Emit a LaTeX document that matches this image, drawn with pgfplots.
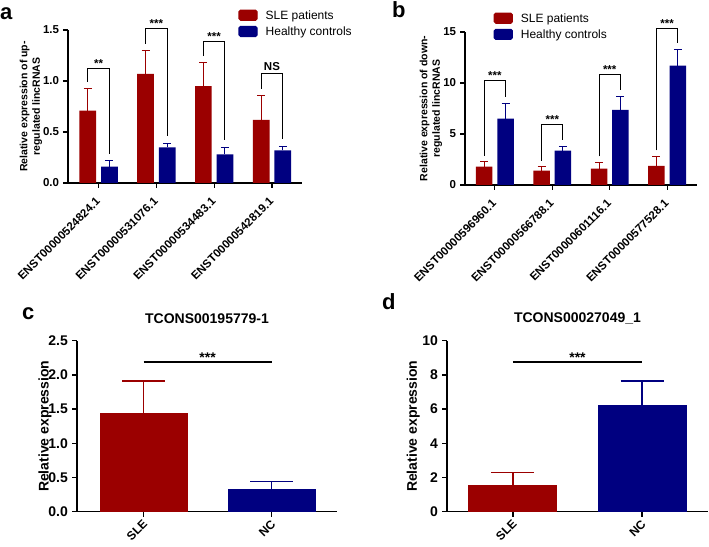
\documentclass[border=0pt]{standalone}
\usepackage{pgfplots}
\pgfplotsset{compat=1.18}
\usepackage{fontspec}
\setmainfont{Liberation Sans}
\definecolor{slered}{RGB}{155,0,0}
\definecolor{hcblue}{RGB}{0,0,128}
\newcommand\fa{\fontsize{11.5}{13}\selectfont\bfseries}
\newcommand\fc{\fontsize{14}{16}\selectfont\bfseries}
\pgfplotsset{
  gp/.style={
    scale only axis,
    axis x line*=bottom, axis y line*=left,
    axis line style={-},
    tick align=outside,
    major tick length=5pt,
    ymin=0,
    clip=false,
    xtick={0,1,2,3},
    /pgf/number format/assume math mode=true,
    legend cell align=left,
  },
  small/.style={
    gp,
    every axis/.append style={line width=1.2pt},
    tick style={line width=1.2pt, black},
    ticklabel style={font=\fa},
    x tick label style={rotate=45, anchor=north east, inner sep=0pt, xshift=-8pt, yshift=-3pt},
    y label style={font=\fontsize{10.5}{12.5}\selectfont\bfseries, align=center},
    legend style={draw=none, fill=none, inner sep=0pt, row sep=5pt,
      font=\fontsize{12}{14}\selectfont, nodes={inner sep=0pt, text depth=0pt},
      /tikz/every odd column/.style={column sep=8pt}},
  },
  big/.style={
    gp,
    every axis/.append style={line width=1.5pt},
    tick style={line width=1.5pt, black},
    ticklabel style={font=\fc},
    x tick label style={font=\fontsize{12}{14}\selectfont\bfseries, rotate=45, anchor=north east, inner sep=0pt, xshift=-2pt, yshift=0pt},
    y label style={font=\fc},
    title style={font=\fc, anchor=base, at={(axis description cs:0.5,1)}, yshift=11.7pt},
    xtick={0,1}, xticklabels={SLE,NC},
  },
  redbar/.style 2 args={ybar, bar shift=0pt, fill=slered, draw=none, forget plot,
    error bars/y dir=plus, error bars/y explicit,
    error bars/error bar style={line width=#2, slered},
    error bars/error mark options={rotate=90, line width=#2, slered, mark size=#1}},
  bluebar/.style 2 args={ybar, bar shift=0pt, fill=hcblue, draw=none, forget plot,
    error bars/y dir=plus, error bars/y explicit,
    error bars/error bar style={line width=#2, hcblue},
    error bars/error mark options={rotate=90, line width=#2, hcblue, mark size=#1}},
  brk/.style={black, line width=1pt, forget plot, mark=none},
}
\newcommand\legsq[1]{\addlegendimage{legend image code/.code={\fill[#1, rounded corners=1.5pt] (0pt,-5pt) rectangle (18pt,5pt);}}}
\begin{document}
\begin{tikzpicture}
\useasboundingbox (0,0) rectangle (709pt,546pt);
\node[anchor=base west, inner sep=0pt, font=\fontsize{22}{22}\selectfont\bfseries] at (0pt,526pt) {a};
\node[anchor=base west, inner sep=0pt, font=\fontsize{22}{22}\selectfont\bfseries] at (392pt,528pt) {b};
\node[anchor=base west, inner sep=0pt, font=\fontsize{22}{22}\selectfont\bfseries] at (22pt,226pt) {c};
\node[anchor=base west, inner sep=0pt, font=\fontsize{22}{22}\selectfont\bfseries] at (382pt,236pt) {d};

% ---- panel a
\begin{axis}[small, at={(68pt,363pt)}, anchor=south west,
  width=234pt, height=153pt,
  xmin=-0.53, xmax=3.52, ymax=1.5,
  ytick={0,0.5,1,1.5},
  yticklabel style={/pgf/number format/.cd, fixed, fixed zerofill, precision=1},
  xticklabels={ENST00000524824.1,ENST00000531076.1,ENST00000534483.1,ENST00000542819.1},
  ylabel={Relative expression of up-\\regulated lincRNAS},
  y label style={at={(axis description cs:-0.158,0.5)}, anchor=center},
  legend style={at={(axis description cs:0.726,1.137)}, anchor=north west},
]
\legsq{slered}
\addlegendentry{SLE patients}
\legsq{hcblue}
\addlegendentry{Healthy controls}
\addplot[redbar={4pt}{1pt}, bar width=16.7pt] coordinates {
  (-0.187,0.71) +- (0,0.22)
  (0.813,1.07) +- (0,0.23)
  (1.813,0.95) +- (0,0.23)
  (2.813,0.62) +- (0,0.24)
};
\addplot[bluebar={4pt}{1pt}, bar width=16.7pt] coordinates {
  (0.187,0.16) +- (0,0.06)
  (1.187,0.35) +- (0,0.04)
  (2.187,0.28) +- (0,0.07)
  (3.187,0.32) +- (0,0.04)
};
\addplot[brk] coordinates {(-0.187,0.995) (-0.187,1.125) (0.187,1.125) (0.187,0.28)};
\addplot[brk] coordinates {(0.813,1.365) (0.813,1.516) (1.187,1.516) (1.187,0.46)};
\addplot[brk] coordinates {(1.813,1.245) (1.813,1.386) (2.187,1.386) (2.187,0.42)};
\addplot[brk] coordinates {(2.813,0.925) (2.813,1.07) (3.187,1.07) (3.187,0.43)};
\node[font=\fa, anchor=base, yshift=1pt] at (axis cs:0,1.125) {**};
\node[font=\fa, anchor=base, yshift=1pt] at (axis cs:1,1.516) {***};
\node[font=\fa, anchor=base, yshift=1pt] at (axis cs:2,1.386) {***};
\node[font=\fa, anchor=base, yshift=3pt] at (axis cs:3,1.07) {NS};
\end{axis}

% ---- panel b
\begin{axis}[small, at={(465pt,361pt)}, anchor=south west,
  width=232pt, height=153pt,
  xmin=-0.52, xmax=3.52, ymax=15,
  ytick={0,5,10,15},
  xticklabels={ENST00000596960.1,ENST00000566788.1,ENST00000601116.1,ENST00000577528.1},
  ylabel={Relative expression of down-\\regulated lincRNAS},
  y label style={at={(axis description cs:-0.147,0.5)}, anchor=center},
  legend style={at={(axis description cs:0.121,1.131)}, anchor=north west},
]
\legsq{slered}
\addlegendentry{SLE patients}
\legsq{hcblue}
\addlegendentry{Healthy controls}
\addplot[redbar={4pt}{1pt}, bar width=16.5pt] coordinates {
  (-0.186,1.8) +- (0,0.5)
  (0.814,1.4) +- (0,0.4)
  (1.814,1.6) +- (0,0.6)
  (2.814,1.87) +- (0,0.9)
};
\addplot[bluebar={4pt}{1pt}, bar width=16.5pt] coordinates {
  (0.186,6.5) +- (0,1.46)
  (1.186,3.37) +- (0,0.4)
  (2.186,7.37) +- (0,1.31)
  (3.186,11.7) +- (0,1.6)
};
\addplot[brk] coordinates {(-0.186,2.85) (-0.186,10.2) (0.186,10.2) (0.186,8.6)};
\addplot[brk] coordinates {(0.814,2.4) (0.814,5.96) (1.186,5.96) (1.186,4.37)};
\addplot[brk] coordinates {(1.814,2.8) (1.814,10.8) (2.186,10.8) (2.186,9.28)};
\addplot[brk] coordinates {(2.814,3.4) (2.814,15.3) (3.186,15.3) (3.186,13.9)};
\node[font=\fa, anchor=base, yshift=1pt] at (axis cs:0,10.2) {***};
\node[font=\fa, anchor=base, yshift=1pt] at (axis cs:1,5.96) {***};
\node[font=\fa, anchor=base, yshift=1pt] at (axis cs:2,10.8) {***};
\node[font=\fa, anchor=base, yshift=1pt] at (axis cs:3,15.3) {***};
\end{axis}

% ---- panel c
\begin{axis}[big, at={(77pt,34.3pt)}, anchor=south west,
  width=260pt, height=171pt,
  xmin=-0.52, xmax=1.51, ymax=2.5,
  ytick={0,0.5,1,1.5,2,2.5},
  yticklabel style={/pgf/number format/.cd, fixed, fixed zerofill, precision=1},
  ylabel={Relative expression},
  y label style={at={(axis description cs:-0.123,0.5)}, anchor=center},
  title={TCONS00195779-1},
]
\addplot[redbar={21.5pt}{1.3pt}, bar width=88pt] coordinates {(0,1.45) +- (0,0.46)};
\addplot[bluebar={21.5pt}{1.3pt}, bar width=88pt] coordinates {(1,0.33) +- (0,0.11)};
\addplot[brk, line width=1.7pt] coordinates {(0,2.19) (1,2.19)};
\node[font=\fc, anchor=base, yshift=-1pt] at (axis cs:0.5,2.19) {***};
\end{axis}

% ---- panel d
\begin{axis}[big, at={(447pt,34.3pt)}, anchor=south west,
  width=261pt, height=171pt,
  xmin=-0.51, xmax=1.51, ymax=10,
  ytick={0,2,4,6,8,10},
  ylabel={Relative expression},
  y label style={at={(axis description cs:-0.129,0.5)}, anchor=center},
  title={TCONS00027049\_1},
]
\addplot[redbar={21.5pt}{1.3pt}, bar width=89pt] coordinates {(0,1.57) +- (0,0.71)};
\addplot[bluebar={21.5pt}{1.3pt}, bar width=89pt] coordinates {(1,6.25) +- (0,1.39)};
\addplot[brk, line width=1.7pt] coordinates {(0,8.77) (1,8.77)};
\node[font=\fc, anchor=base, yshift=-1pt] at (axis cs:0.5,8.77) {***};
\end{axis}
\end{tikzpicture}
\end{document}
